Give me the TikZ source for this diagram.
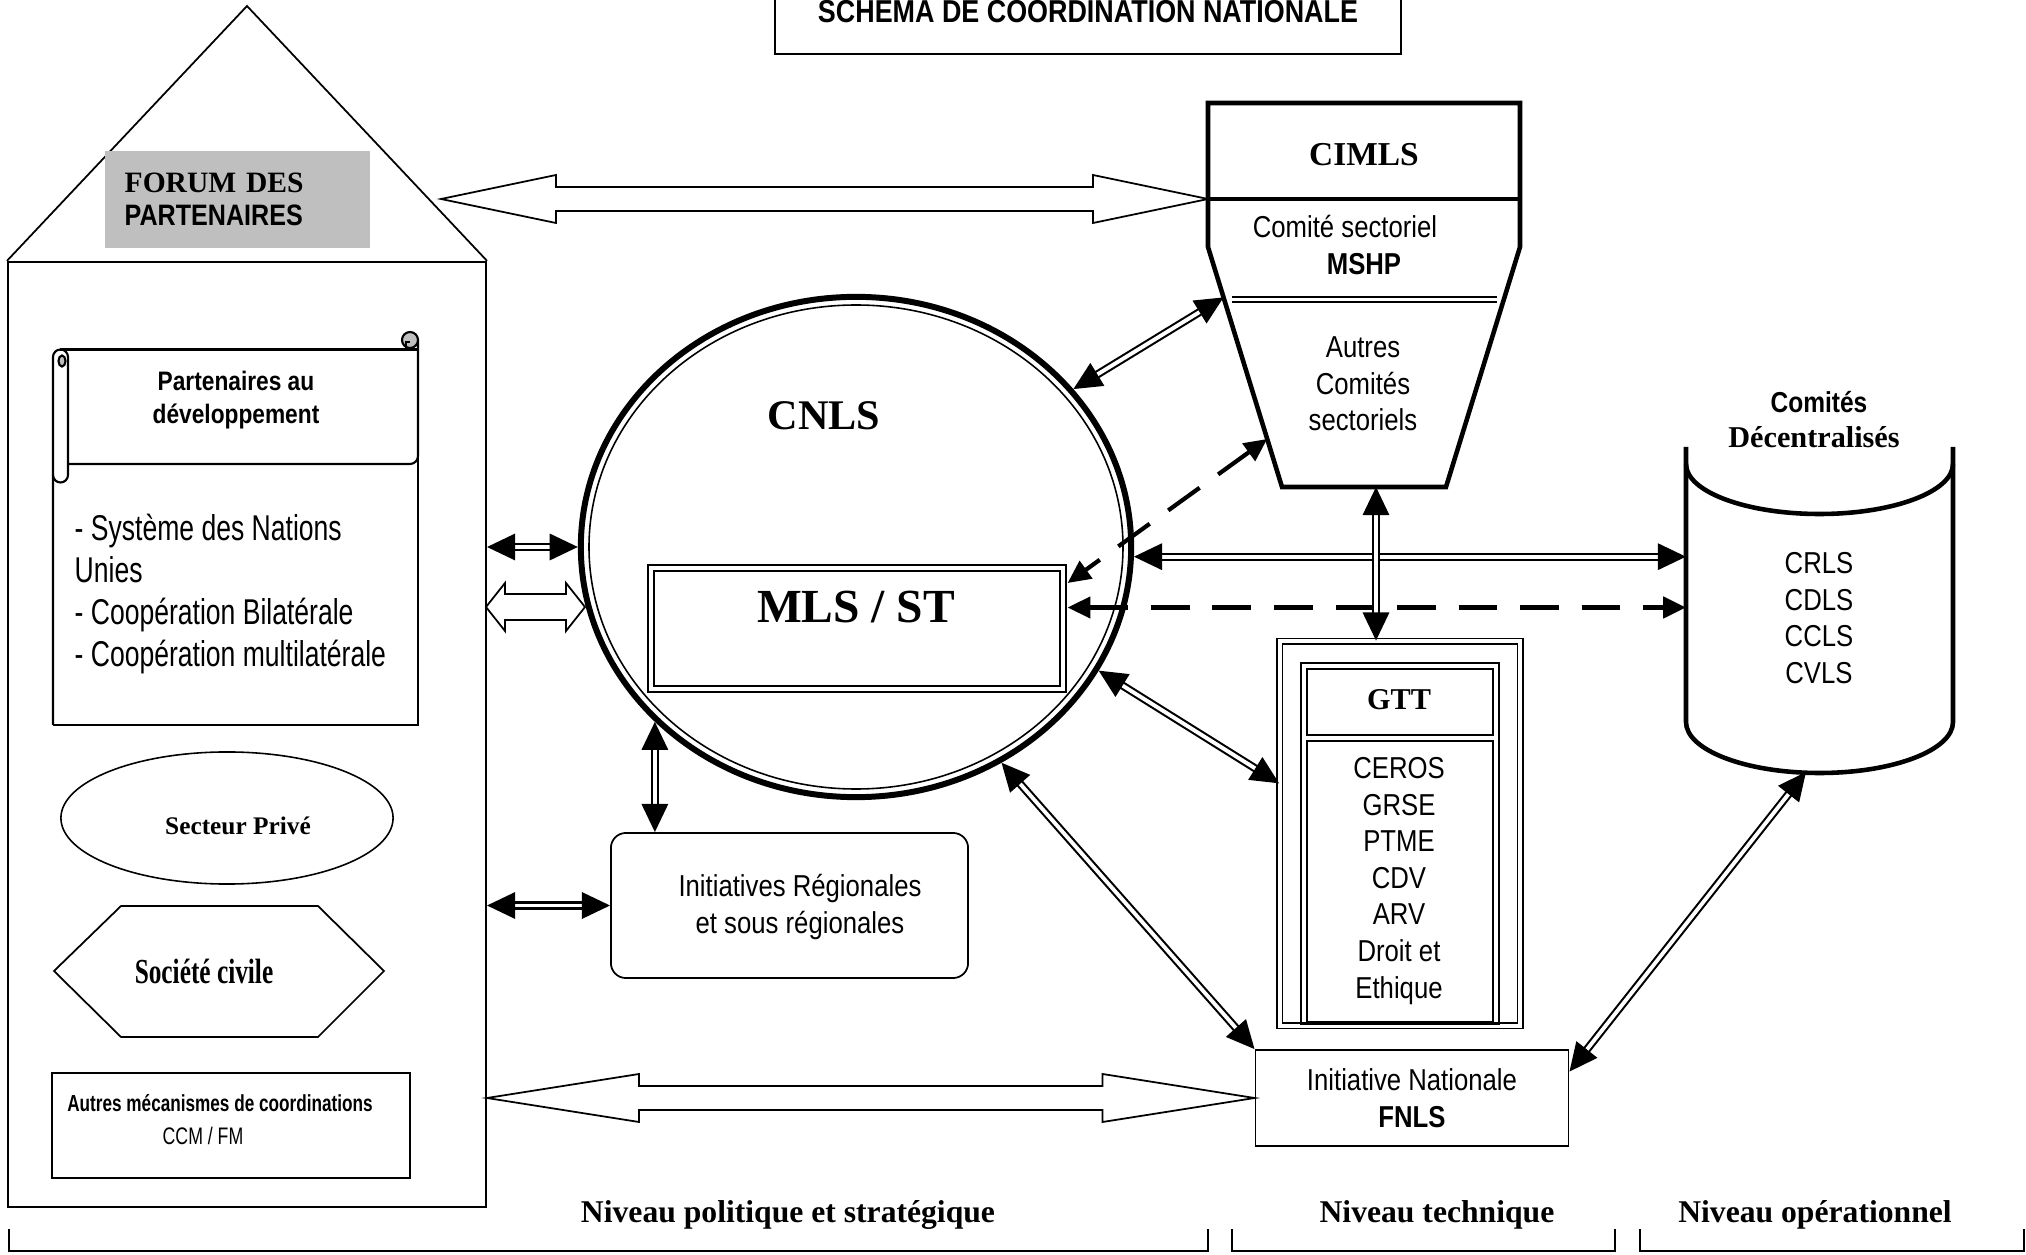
\documentclass[tikz,border=0pt]{standalone}
\usepackage{fontspec}
\setmainfont{Liberation Serif}
\setsansfont{Liberation Sans}[FakeStretch=0.85]
\newfontfamily\condsans{Liberation Sans}[FakeStretch=0.74]
\newfontfamily\condserif{Liberation Serif}[FakeStretch=0.72]
\usetikzlibrary{arrows.meta,calc,positioning,shapes.geometric}

% hollow block arrow: start, end, head length, head half width, shaft half width
\newcommand{\hollowarrow}[5]{%
  \draw[hollow] (#1) -- ($(#1)+(#3,#4)$) -- ($(#1)+(#3,#5)$) -- ($(#2)+(-#3,#5)$) -- ($(#2)+(-#3,#4)$) -- (#2)
    -- ($(#2)+(-#3,-#4)$) -- ($(#2)+(-#3,-#5)$) -- ($(#1)+(#3,-#5)$) -- ($(#1)+(#3,-#4)$) -- cycle;}

\begin{document}
\begin{tikzpicture}[x=0.01cm, y=-0.01cm,
    box/.style={draw, line width=0.5pt, inner sep=0pt},
    thk/.style={line width=1.3pt},
    txt/.style={font=\sffamily\fontsize{8.6}{10.4}\selectfont, align=center, inner sep=0pt},
    dbl/.style={double, double distance=1.1pt, line width=0.6pt,
      {Triangle[length=8pt,width=7.5pt]}-{Triangle[length=8pt,width=7.5pt]}},
    dsh/.style={line width=1.2pt, dash pattern=on 11pt off 6.5pt,
      {Triangle[length=6.5pt,width=6pt]}-{Triangle[length=6.5pt,width=6pt]}},
    hollow/.style={draw, fill=white, line width=0.5pt},
    niveau/.style={font=\bfseries\fontsize{9}{9}\selectfont, anchor=base, inner sep=0pt}]
    \fill[white] (0,0) rectangle (2026,1255);
    \useasboundingbox (0,0) rectangle (2026,1255);

    % Title
    \node[box, minimum width=6.26cm, minimum height=0.9cm] (titlebox) at (1088,9) {};
    \node[txt, font=\sffamily\bfseries\fontsize{9}{9}\selectfont, anchor=base] (title) at (1088,23) {SCHEMA DE COORDINATION NATIONALE};

    % House of partners
    \node[box, minimum width=4.78cm, minimum height=9.45cm] (house) at (247,734.5) {};
    \draw[line width=0.5pt] (house.north west) -- (247,6) coordinate (apex) -- (house.north east);
    \node[fill=black!25, anchor=north west, minimum width=2.65cm, minimum height=0.97cm, text width=2.25cm,
      inner xsep=0.2cm, inner ysep=0pt, align=left, font=\bfseries\fontsize{8.4}{9.2}\selectfont]
      (forum) at (104,150) {FORUM DES\\{\sffamily PARTENAIRES}};

    % Scroll
    \draw[line width=0.6pt] (53,725) -- (53,357) arc (180:360:7.5) -- (68,475);
    \draw[line width=0.6pt] (53,475) arc (180:0:7.5);
    \draw[line width=0.6pt, fill=black!25] (62,361) ellipse (3.5 and 5.5);
    \draw[line width=0.6pt] (60,349.5) -- (418,349.5);
    \draw[line width=0.6pt] (68,464) -- (410,464) arc (90:0:8) -- (418,340);
    \draw[line width=0.6pt] (418,340) -- (418,725) -- (53,725);
    \draw[line width=0.6pt, fill=black!25] (410,340) circle (8);
    \draw[line width=0.6pt] (406,349.5) -- (406,342) -- (410,342);
    \node[txt, font=\sffamily\bfseries\fontsize{7.6}{9.4}\selectfont] (partdev) at (236,400) {Partenaires au\\développement};
    \node[txt, anchor=west, align=left, font=\condsans\fontsize{10.2}{12}\selectfont] (partlist) at (74,594)
      {- Système des Nations\\Unies\\- Coopération Bilatérale\\- Coopération multilatérale};

    % Other members
    \node[draw, ellipse, line width=0.45pt, minimum width=3.32cm, minimum height=1.32cm, inner sep=0pt] (prive) at (227,818) {};
    \node[font=\bfseries\fontsize{7.2}{7.2}\selectfont, inner sep=0pt] (privetxt) at (238,826) {Secteur Privé};
    \draw[line width=0.5pt] (54,971) -- (121,906) -- (318,906) -- (384,971) -- (318,1037) -- (121,1037) -- cycle;
    \node[font=\condserif\bfseries\fontsize{10}{10}\selectfont, inner sep=0pt] (civile) at (204,971) {Société civile};
    \node[box, minimum width=3.58cm, minimum height=1.05cm] (autres) at (231,1125.5) {};
    \node[font=\condsans\bfseries\fontsize{6.6}{6.6}\selectfont, inner sep=0pt] (autrestxt) at (220,1103) {Autres mécanismes de coordinations};
    \node[font=\condsans\fontsize{6.8}{6.8}\selectfont, inner sep=0pt] (ccm) at (203,1136) {CCM / FM};

    % CNLS
    \node[draw, ellipse, line width=1.7pt, minimum width=5.5cm, minimum height=5cm, inner sep=0pt] (cnls) at (856,547) {};
    \draw[line width=0.45pt] (cnls.center) ellipse (267 and 242);
    \node[font=\bfseries\fontsize{12}{12}\selectfont, inner sep=0pt] (cnlstxt) at (824,416) {CNLS};
    \node[draw, double, double distance=1.2pt, line width=0.55pt, minimum width=4.11cm, minimum height=1.21cm,
      inner sep=0pt] (mls) at (857,628.5) {};
    \node[font=\bfseries\fontsize{13.5}{13.5}\selectfont, inner sep=0pt] (mlstxt) at (856,607) {MLS / ST};

    % CIMLS
    \draw[thk] (1208,247) coordinate (cimlwl) -- (1208,103) -- (1520,103) -- (1520,247) -- (1446,487)
      -- (1282,487) coordinate (cimlbl) -- cycle;
    \draw[thk] (1208,199) coordinate (cimlw) -- (1520,199);
    \draw[double, double distance=1.1pt, line width=0.5pt] (1232,299.5) -- (1497,299.5);
    \node[font=\bfseries\fontsize{9.5}{9.5}\selectfont, inner sep=0pt] (cimls) at (1364,155) {CIMLS};
    \node[txt] (comsect) at (1345,227) {Comité sectoriel};
    \node[txt, font=\sffamily\bfseries\fontsize{8.6}{10.4}\selectfont] (mshp) at (1364,264) {MSHP};
    \node[txt] (autrescom) at (1363,384) {Autres\\Comités\\sectoriels};

    % Decentralised committees
    \coordinate (cylnw) at (1686,447);
    \coordinate (cylne) at (1953,447);
    \draw[thk] (cylnw) -- (1686,722) coordinate (cylsw) arc (180:0:133.5 and 51) -- (cylne);
    \draw[thk] (1686,464) arc (180:0:133.5 and 50);
    \node[txt, font=\sffamily\bfseries\fontsize{8.2}{8.2}\selectfont] (comites) at (1819,402) {Comités};
    \node[font=\bfseries\fontsize{8.6}{8.6}\selectfont, inner sep=0pt] (decent) at (1814,437) {Décentralisés};
    \node[txt] (crls) at (1819,618) {CRLS\\CDLS\\CCLS\\CVLS};

    % GTT
    \node[draw, double, double distance=1.1pt, line width=0.45pt, minimum width=2.4cm, minimum height=3.84cm,
      inner sep=0pt] (gtt) at (1400,833.5) {};
    \draw[line width=0.8pt] (1301,663) rectangle (1499,1024);
    \draw[line width=0.6pt] (1307,669) rectangle (1493,735);
    \draw[line width=0.6pt] (1307,741) rectangle (1493,1022);
    \node[font=\bfseries\fontsize{8.6}{8.6}\selectfont, inner sep=0pt] (gtttxt) at (1399,700) {GTT};
    \node[txt] (gttlist) at (1399,881) {CEROS\\GRSE\\PTME\\CDV\\ARV\\Droit et\\Ethique};

    % FNLS and regional initiatives
    \node[box, txt, minimum width=3.13cm, minimum height=0.96cm] (fnls) at (1412,1098) {Initiative Nationale\\\textbf{FNLS}};
    \node[box, rounded corners=0.15cm, minimum width=3.57cm, minimum height=1.45cm] (initreg) at (789.5,905.5) {};
    \node[txt] (initregtxt) at (800,907) {Initiatives Régionales\\et sous régionales};

    % Levels
    \draw[line width=0.5pt] (9,1229) -- (9,1251) -- (1208,1251) -- (1208,1229);
    \draw[line width=0.5pt] (1232,1229) -- (1232,1251) -- (1615,1251) -- (1615,1229);
    \draw[line width=0.5pt] (1640,1229) -- (1640,1251) -- (2024,1251) -- (2024,1229);
    \node[niveau] (npol) at (788,1222) {Niveau politique et stratégique};
    \node[niveau] (ntech) at (1437,1222) {Niveau technique};
    \node[niveau] (nop) at (1815,1222) {Niveau opérationnel};

    % Paths
    \coordinate (roofpt) at (441,199);
    \coordinate (hmls) at (house.east |- cnls.west);
    \coordinate (hsmall) at (486,607);
    \coordinate (cnlssmall) at (585,607);
    \coordinate (hinit) at (house.east |- initreg.west);
    \coordinate (hfnls) at (house.east |- fnls.west);
    \coordinate (cimlL) at ($(cimlwl)!0.21!(cimlbl)$);
    \coordinate (cimlD) at ($(cimlwl)!0.8!(cimlbl)$);
    \coordinate (cimlB) at (1376,487);
    \coordinate (cylbot) at (1806,772);
    \coordinate (mlsR) at ($(mls.east)+(4,-21)$);

    \hollowarrow{roofpt}{cimlw}{115}{24}{12}
    \hollowarrow{hfnls}{fnls.west}{152}{24}{12}
    \hollowarrow{hsmall}{cnlssmall}{19}{24}{13}

    \draw [dbl] (hmls) -- (cnls.west);
    \draw [dbl] (hinit) -- (initreg.west);
    \draw [dbl] (cnls.36.6) -- (cimlL);
    \draw [dbl] (cnls.-2.5) -- (cnls.-2.5 -| cylnw);
    \draw [dbl] (cimlB) -- (cimlB |- gtt.north);
    \draw [dbl] (cnls.-27) -- ($(gtt.north west)!0.37!(gtt.south west)$);
    \draw [dbl] (cnls.-56.9) -- (fnls.north west);
    \draw [dbl] (cylbot) -- ($(fnls.north east)!0.23!(fnls.south east)$);
    \draw [dbl] (cnls.221.3) -- (cnls.221.3 |- initreg.north);

    \path [dsh] (mlsR) edge (mlsR -| cylnw);
    \path [dsh] (cimlD) edge ($(mls.north east)+(4,16)$);
\end{tikzpicture}
\end{document}
